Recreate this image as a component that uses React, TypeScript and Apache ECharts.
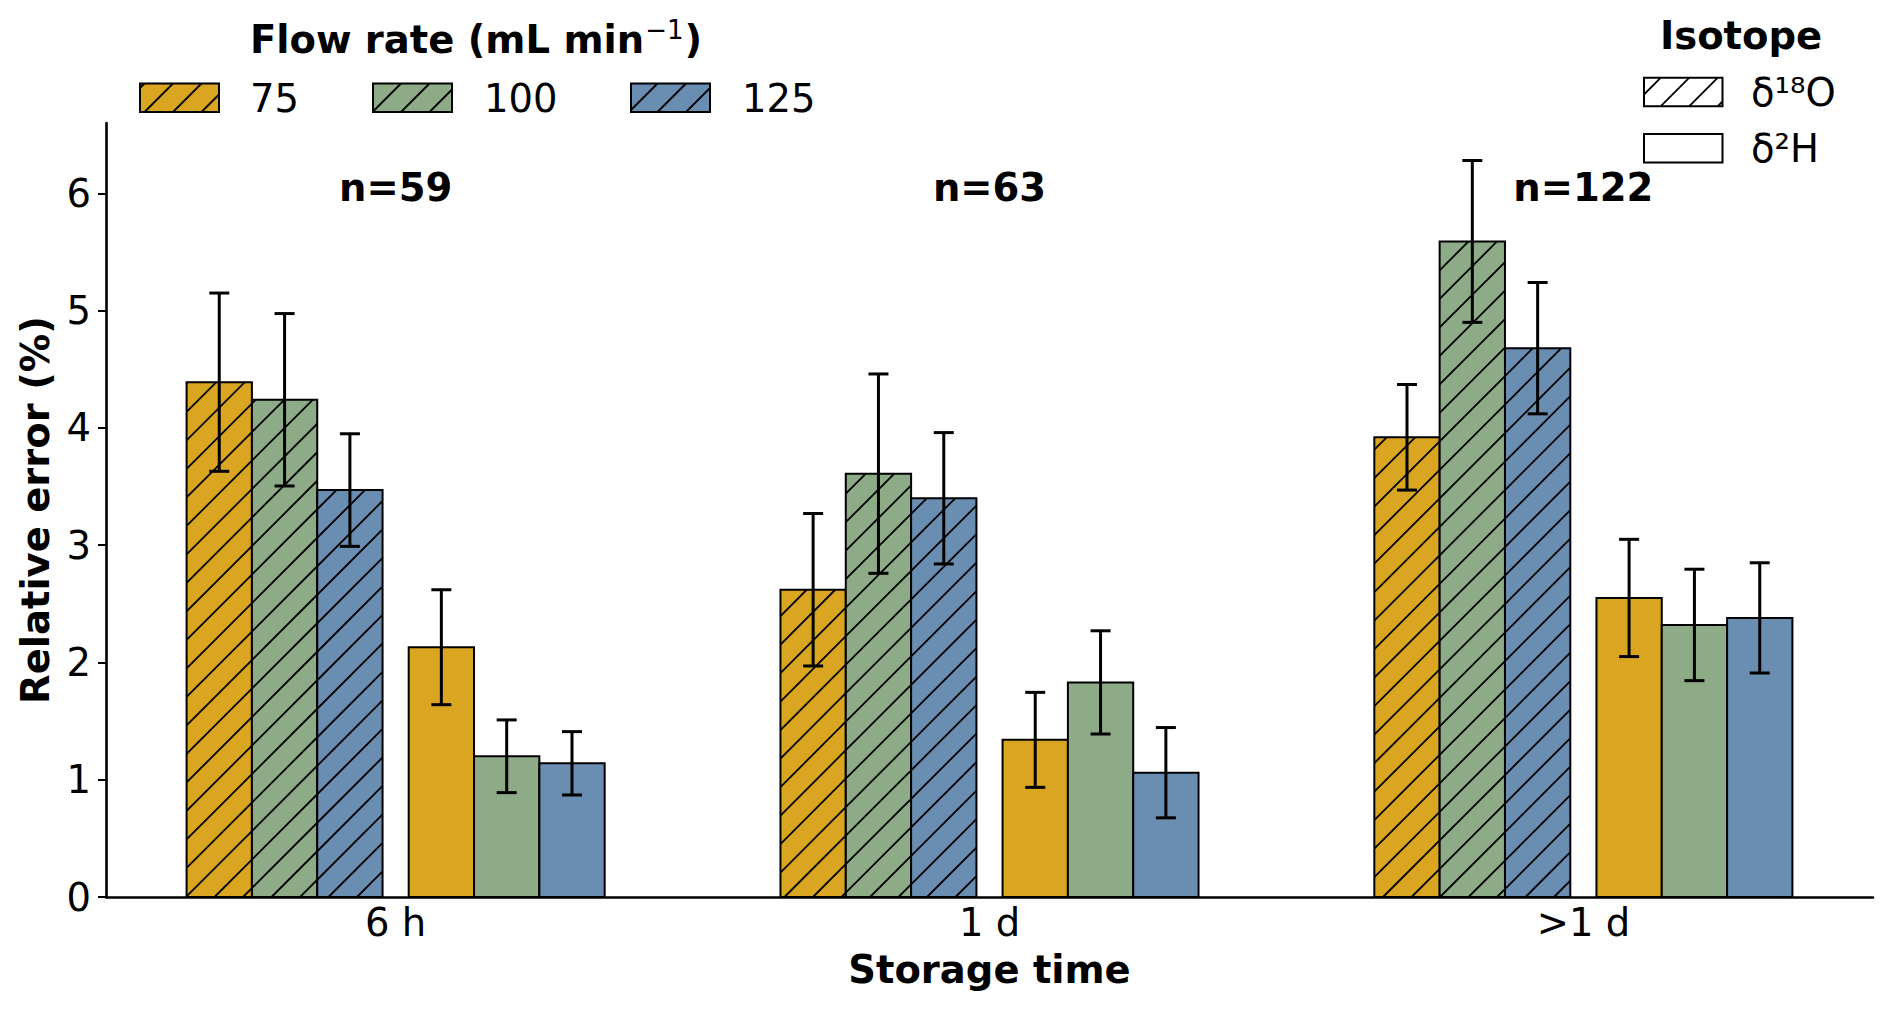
import React, { useEffect, useRef } from "react";
import * as echarts from "echarts";

// ---------------- data ----------------
const categories = ["6 h", "1 d", ">1 d"];
const sampleSizes = [59, 63, 122];
const flowRates = ["75", "100", "125"];
const isotopes = ["δ¹⁸O", "δ²H"];
const yTicks = [0, 1, 2, 3, 4, 5, 6];

// δ18O (hatched)
const o18Mean75 = [4.39, 2.62, 3.92];
const o18Err75 = [0.76, 0.65, 0.45];
const o18Mean100 = [4.24, 3.61, 5.59];
const o18Err100 = [0.735, 0.85, 0.69];
const o18Mean125 = [3.47, 3.4, 4.68];
const o18Err125 = [0.48, 0.56, 0.56];
// δ2H (plain)
const h2Mean75 = [2.13, 1.34, 2.55];
const h2Err75 = [0.49, 0.405, 0.5];
const h2Mean100 = [1.2, 1.83, 2.32];
const h2Err100 = [0.31, 0.44, 0.475];
const h2Mean125 = [1.14, 1.06, 2.38];
const h2Err125 = [0.27, 0.385, 0.47];

// ---------------- style ----------------
const FONT = "DejaVu Sans";
const FS = 38.5;
const FS_BOLD = 38.5;
const COLORS = ["#DAA520", "#8DAB86", "#6A8DB2"];
const BAR_W = 0.11;
const HATCH_SPACING = 28.5;
const HATCH_LW = 1.8;
const EDGE_LW = 2;
const ERR_LW = 3;
const CAP_HALF = 10;

function hatchSegments(xl: number, yt: number, xr: number, yb: number) {
  const out: any[] = [];
  const s = HATCH_SPACING;
  const cMin = xl + yt;
  const cMax = xr + yb;
  for (let c = Math.ceil(cMin / s) * s; c <= cMax; c += s) {
    const xa = Math.max(xl, c - yb);
    const xb = Math.min(xr, c - yt);
    if (xb > xa) {
      out.push({
        type: "line",
        shape: { x1: xa, y1: c - xa, x2: xb, y2: c - xb },
        style: { stroke: "#000", lineWidth: HATCH_LW },
        silent: true,
      });
    }
  }
  return out;
}

const groups = [
  { iso: 0, flow: 0, mean: o18Mean75, err: o18Err75 },
  { iso: 0, flow: 1, mean: o18Mean100, err: o18Err100 },
  { iso: 0, flow: 2, mean: o18Mean125, err: o18Err125 },
  { iso: 1, flow: 0, mean: h2Mean75, err: h2Err75 },
  { iso: 1, flow: 1, mean: h2Mean100, err: h2Err100 },
  { iso: 1, flow: 2, mean: h2Mean125, err: h2Err125 },
];

function barOffset(iso: number, flow: number) {
  return iso === 0 ? -0.297 + flow * 0.11 : 0.077 + flow * 0.11;
}

function buildOption() {
  const series: any[] = groups.map((g) => {
    const offset = barOffset(g.iso, g.flow);
    const color = COLORS[g.flow];
    const hatched = g.iso === 0;
    return {
      type: "custom",
      name: isotopes[g.iso] + " " + flowRates[g.flow],
      data: categories.map((_, i) => [i, g.mean[i], g.err[i]]),
      renderItem: (params: any, api: any) => {
        const cat = api.value(0);
        const mean = api.value(1);
        const err = api.value(2);
        const cx = cat + offset;
        const tl = api.coord([cx - BAR_W / 2, mean]);
        const br = api.coord([cx + BAR_W / 2, 0]);
        const x0 = tl[0], y0 = tl[1], x1 = br[0], y1 = br[1];
        const shape = { x: x0, y: y0, width: x1 - x0, height: y1 - y0 };
        const children: any[] = [
          { type: "rect", shape, style: { fill: color } },
        ];
        if (hatched) children.push(...hatchSegments(x0, y0, x1, y1));
        children.push({
          type: "rect",
          shape,
          style: { fill: "none", stroke: "#000", lineWidth: EDGE_LW },
        });
        const top = api.coord([cx, mean + err]);
        const bot = api.coord([cx, mean - err]);
        children.push({
          type: "line",
          shape: { x1: top[0], y1: top[1], x2: bot[0], y2: bot[1] },
          style: { stroke: "#000", lineWidth: ERR_LW },
        });
        children.push({
          type: "line",
          shape: { x1: top[0] - CAP_HALF, y1: top[1], x2: top[0] + CAP_HALF, y2: top[1] },
          style: { stroke: "#000", lineWidth: ERR_LW },
        });
        children.push({
          type: "line",
          shape: { x1: bot[0] - CAP_HALF, y1: bot[1], x2: bot[0] + CAP_HALF, y2: bot[1] },
          style: { stroke: "#000", lineWidth: ERR_LW },
        });
        return { type: "group", children };
      },
    };
  });

  // sample size annotations
  series.push({
    type: "custom",
    name: "n",
    data: categories.map((_, i) => [i, 6.05, sampleSizes[i]]),
    renderItem: (params: any, api: any) => {
      const p = api.coord([api.value(0), api.value(1)]);
      return {
        type: "text",
        x: p[0],
        y: p[1],
        style: {
          text: "n=" + api.value(2),
          fontFamily: FONT,
          fontSize: FS_BOLD,
          fontWeight: "bold",
          fill: "#000",
          align: "center",
          verticalAlign: "middle",
          textAlign: "center",
          textVerticalAlign: "middle",
        },
      };
    },
  });

  // legends (graphic)
  const graphic: any[] = [];
  const textStyle = (text: string, x: number, y: number, align: string, size: number, bold: boolean) => ({
    type: "text",
    x,
    y,
    style: {
      text,
      fontFamily: FONT,
      fontSize: size,
      fontWeight: bold ? "bold" : "normal",
      fill: "#000",
      align,
      verticalAlign: "middle",
      textAlign: align,
      textVerticalAlign: "middle",
    },
  });
  const patch = (x: number, y: number, w: number, h: number, fill: string, hatched: boolean) => {
    const items: any[] = [{ type: "rect", shape: { x, y, width: w, height: h }, style: { fill } }];
    if (hatched) items.push(...hatchSegments(x, y, x + w, y + h));
    items.push({
      type: "rect",
      shape: { x, y, width: w, height: h },
      style: { fill: "none", stroke: "#000", lineWidth: EDGE_LW },
    });
    return items;
  };

  // Flow rate legend title with superscript
  graphic.push({
    type: "text",
    x: 476,
    y: 39,
    style: {
      text: "{b|Flow rate (mL min}{s|−1}{b|)}",
      align: "center",
      verticalAlign: "middle",
      textAlign: "center",
      textVerticalAlign: "middle",
      fill: "#000",
      rich: {
        b: { fontFamily: FONT, fontSize: FS_BOLD, fontWeight: "bold", lineHeight: 44, fill: "#000" },
        s: { fontFamily: FONT, fontSize: 26, fontWeight: "normal", lineHeight: 44, verticalAlign: "top", fill: "#000", padding: [0, 1, 0, 1] },
      },
    },
  });
  const flowPatchX = [140, 373, 631];
  const flowTextX = [250, 484, 742];
  flowRates.forEach((f, i) => {
    graphic.push(...patch(flowPatchX[i], 83.5, 79, 28.5, COLORS[i], true));
    graphic.push(textStyle(f, flowTextX[i], 98, "left", FS, false));
  });

  // Isotope legend
  graphic.push(textStyle("Isotope", 1741, 35.5, "center", FS_BOLD, true));
  const isoPatchY = [77.7, 134];
  const isoTextY = [92, 148];
  isotopes.forEach((iso, i) => {
    graphic.push(...patch(1644, isoPatchY[i], 78.5, 28.5, "#fff", i === 0));
    graphic.push(textStyle(iso, 1751, isoTextY[i], "left", FS, false));
  });

  return {
    animation: false,
    backgroundColor: "#fff",
    textStyle: { fontFamily: FONT },
    grid: { left: 106, right: 19, top: 123, bottom: 113, containLabel: false },
    xAxis: {
      type: "value",
      min: -0.4877,
      max: 2.4877,
      splitLine: { show: false },
      axisTick: { show: false },
      axisLine: { show: true, onZero: false, lineStyle: { color: "#000", width: 2.6 } },
      axisLabel: {
        customValues: [0, 1, 2],
        formatter: (v: number) => categories[Math.round(v)] ?? "",
        fontFamily: FONT,
        fontSize: FS,
        color: "#000",
        margin: 6,
      },
      name: "Storage time",
      nameLocation: "middle",
      nameGap: 53,
      nameTextStyle: { fontFamily: FONT, fontSize: FS_BOLD, fontWeight: "bold", color: "#000" },
    },
    yAxis: {
      type: "value",
      min: 0,
      max: 6.6,
      splitLine: { show: false },
      axisLine: { show: true, onZero: false, lineStyle: { color: "#000", width: 2.6 } },
      axisTick: { show: true, length: 8, customValues: yTicks, lineStyle: { color: "#000", width: 2 } },
      axisLabel: {
        customValues: yTicks,
        fontFamily: FONT,
        fontSize: FS,
        color: "#000",
        margin: 15,
      },
      name: "Relative error (%)",
      nameLocation: "middle",
      nameGap: 51,
      nameRotate: 90,
      nameTextStyle: { fontFamily: FONT, fontSize: FS_BOLD, fontWeight: "bold", color: "#000" },
    },
    graphic,
    series,
  };
}

export default function App() {
  const ref = useRef<HTMLDivElement>(null);
  useEffect(() => {
    if (!ref.current) return;
    const chart = echarts.init(ref.current, undefined, { renderer: "svg" });
    chart.setOption(buildOption() as any);
    return () => chart.dispose();
  }, []);
  return (
    <div
      ref={ref}
      style={{ position: "fixed", left: 0, top: 0, width: 1892, height: 1010, background: "#fff" }}
    />
  );
}
